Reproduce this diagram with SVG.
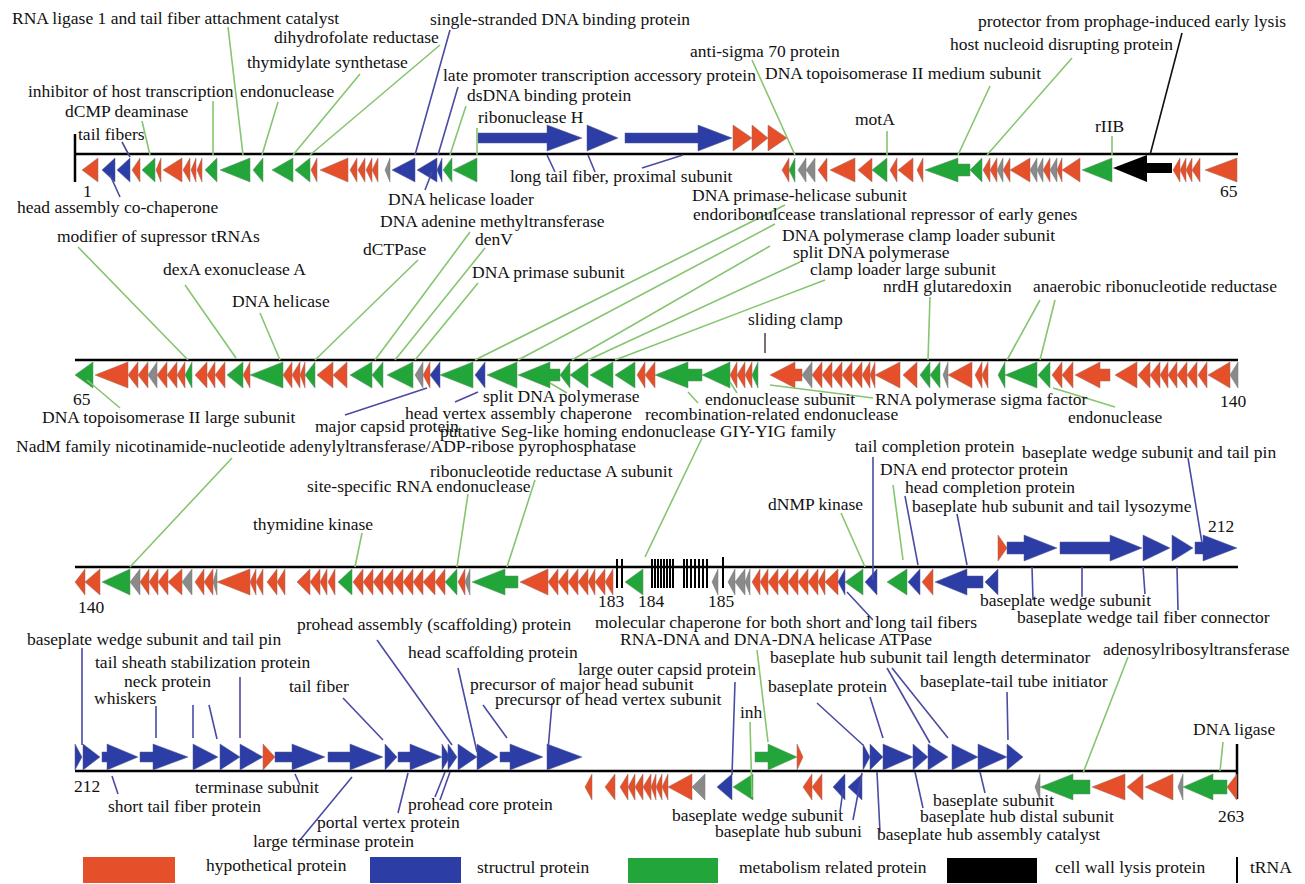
<svg xmlns="http://www.w3.org/2000/svg" width="1305" height="884" viewBox="0 0 1305 884">
<style>
text{font-family:"Liberation Serif","Times New Roman",serif;font-size:17.5px;fill:#111}
.r{fill:#E5502A;stroke:#9a6a60;stroke-width:0.5}
.b{fill:#2D3DA6;stroke:#55588a;stroke-width:0.5}
.g{fill:#23A639;stroke:#5f8a62;stroke-width:0.5}
.y{fill:#8A8A8A;stroke:#777;stroke-width:0.5}
.k{fill:#000}
.axis{stroke:#000;stroke-width:2.5;fill:none}
.lg{stroke:#86C56F;stroke-width:1.6;fill:none}
.lb{stroke:#4B4BA3;stroke-width:1.6;fill:none}
.lk{stroke:#111;stroke-width:1.6;fill:none}
.ld{stroke:#5a4a4a;stroke-width:1.6;fill:none}
.trna{stroke:#000;stroke-width:2;fill:none}
</style>
<rect width="1305" height="884" fill="#fff"/>

<!-- axes -->
<g id="axes">
<line class="axis" x1="75" y1="154" x2="1238" y2="154"/>
<line class="axis" x1="75" y1="134" x2="75" y2="182"/>
<line class="axis" x1="75" y1="360" x2="1238" y2="360"/>
<line class="axis" x1="75" y1="567" x2="1238" y2="567"/>
<line class="axis" x1="75" y1="771" x2="1238" y2="771"/>
<line class="axis" x1="1237" y1="744" x2="1237" y2="799"/>
</g>

<!-- track 1 genes -->
<g id="track1-genes">
<polygon class="r" points="82,170 98,158 98,182"/>
<polygon class="b" points="102,170 115,158 115,182"/>
<polygon class="b" points="117,170 130,158 130,182"/>
<polygon class="r" points="132,170 140,158 140,182"/>
<polygon class="g" points="142,170 155,158 155,182"/>
<polygon class="r" points="156,170 161,158 161,182"/>
<polygon class="r" points="163,170 182,158 182,182"/>
<polygon class="r" points="183,170 190,158 190,182"/>
<polygon class="r" points="191,170 196,158 196,182"/>
<polygon class="r" points="197,170 202,158 202,182"/>
<polygon class="g" points="205,170 217,158 217,182"/>
<polygon class="g" points="220,170 250,158 250,182"/>
<polygon class="g" points="253,170 263,158 263,182"/>
<polygon class="g" points="272,170 293,158 293,182"/>
<polygon class="g" points="295,170 310,158 310,182"/>
<polygon class="r" points="311,170 317,158 317,182"/>
<polygon class="r" points="320,170 348,158 348,182"/>
<polygon class="r" points="350,170 357,158 357,182"/>
<polygon class="r" points="358,170 365,158 365,182"/>
<polygon class="r" points="366,170 372,158 372,182"/>
<polygon class="r" points="372,170 378,158 378,182"/>
<polygon class="y" points="385,170 390,158 390,182"/>
<polygon class="b" points="392,170 415,158 415,182"/>
<polygon class="b" points="417,170 437,158 437,182"/>
<polygon class="b" points="437,170 442,158 442,182"/>
<polygon class="g" points="443,170 452,158 452,182"/>
<polygon class="g" points="453,170 477,158 477,182"/>
<polygon class="b" points="478,133 547,133 547,125 582,138 547,151 547,143 478,143"/>
<polygon class="b" points="587,125 618,138 587,151"/>
<polygon class="b" points="625,133 698,133 698,125 732,138 698,151 698,143 625,143"/>
<polygon class="r" points="733,125 752,138 733,151"/>
<polygon class="r" points="752,125 768,138 752,151"/>
<polygon class="r" points="768,125 787,138 768,151"/>
<polygon class="r" points="782,170 789,158 789,182"/>
<polygon class="g" points="789,170 795,158 795,182"/>
<polygon class="y" points="798,170 806,158 806,182"/>
<polygon class="y" points="806,170 815,158 815,182"/>
<polygon class="r" points="818,170 827,158 827,182"/>
<polygon class="r" points="830,170 855,158 855,182"/>
<polygon class="r" points="858,170 872,158 872,182"/>
<polygon class="g" points="872,170 887,158 887,182"/>
<polygon class="r" points="890,170 897,158 897,182"/>
<polygon class="r" points="898,170 913,158 913,182"/>
<polygon class="r" points="917,170 923,158 923,182"/>
<polygon class="g" points="925,170 958,158 958,164 970,164 970,176 958,176 958,182"/>
<polygon class="g" points="970,170 982,158 982,182"/>
<polygon class="r" points="983,170 990,158 990,182"/>
<polygon class="r" points="990,170 997,158 997,182"/>
<polygon class="y" points="997,170 1003,158 1003,182"/>
<polygon class="r" points="1003,170 1010,158 1010,182"/>
<polygon class="r" points="1010,170 1030,158 1030,182"/>
<polygon class="y" points="1030,170 1037,158 1037,182"/>
<polygon class="y" points="1037,170 1043,158 1043,182"/>
<polygon class="r" points="1043,170 1050,158 1050,182"/>
<polygon class="y" points="1050,170 1057,158 1057,182"/>
<polygon class="r" points="1057,170 1062,158 1062,182"/>
<polygon class="r" points="1062,170 1080,158 1080,182"/>
<polygon class="g" points="1082,170 1112,158 1112,182"/>
<polygon class="k" points="1113,168 1147,155 1147,163 1172,163 1172,173 1147,173 1147,182"/>
<polygon class="r" points="1173,170 1180,158 1180,182"/>
<polygon class="r" points="1180,170 1186,158 1186,182"/>
<polygon class="r" points="1186,170 1192,158 1192,182"/>
<polygon class="r" points="1192,170 1200,158 1200,182"/>
<polygon class="r" points="1205,170 1237,158 1237,182"/>
</g>

<!-- track 2 genes -->
<g id="track2-genes">
<polygon class="g" points="75,375 93,362 93,388"/>
<polygon class="r" points="95,375 128,362 128,388"/>
<polygon class="r" points="128,375 138,362 138,388"/>
<polygon class="r" points="138,375 148,362 148,388"/>
<polygon class="y" points="148,375 157,362 157,388"/>
<polygon class="r" points="157,375 167,362 167,388"/>
<polygon class="r" points="167,375 177,362 177,388"/>
<polygon class="r" points="177,375 185,362 185,388"/>
<polygon class="g" points="185,375 192,362 192,388"/>
<polygon class="r" points="195,375 207,362 207,388"/>
<polygon class="r" points="207,375 215,362 215,388"/>
<polygon class="r" points="215,375 225,362 225,388"/>
<polygon class="g" points="227,375 243,362 243,388"/>
<polygon class="r" points="243,375 250,362 250,388"/>
<polygon class="g" points="250,375 283,362 283,388"/>
<polygon class="r" points="283,375 292,362 292,388"/>
<polygon class="r" points="292,375 300,362 300,388"/>
<polygon class="r" points="300,375 305,362 305,388"/>
<polygon class="g" points="305,375 315,362 315,388"/>
<polygon class="r" points="317,375 333,362 333,388"/>
<polygon class="r" points="333,375 347,362 347,388"/>
<polygon class="g" points="350,375 372,362 372,388"/>
<polygon class="g" points="372,375 383,362 383,388"/>
<polygon class="g" points="387,375 413,362 413,388"/>
<polygon class="y" points="415,375 423,362 423,388"/>
<polygon class="r" points="423,375 430,362 430,388"/>
<polygon class="b" points="430,375 440,362 440,388"/>
<polygon class="g" points="440,375 473,362 473,388"/>
<polygon class="b" points="475,375 485,362 485,388"/>
<polygon class="g" points="487,375 517,362 517,388"/>
<polygon class="g" points="518,375 550,362 550,369 560,369 560,381 550,381 550,388"/>
<polygon class="g" points="560,375 570,362 570,388"/>
<polygon class="g" points="570,375 588,362 588,388"/>
<polygon class="g" points="590,375 613,362 613,388"/>
<polygon class="g" points="615,375 635,362 635,388"/>
<polygon class="r" points="637,375 645,362 645,388"/>
<polygon class="r" points="645,375 655,362 655,388"/>
<polygon class="g" points="655,375 688,362 688,369 702,369 702,381 688,381 688,388"/>
<polygon class="g" points="702,375 730,362 730,388"/>
<polygon class="r" points="730,375 737,362 737,388"/>
<polygon class="r" points="737,375 745,362 745,388"/>
<polygon class="r" points="745,375 752,362 752,388"/>
<polygon class="g" points="752,375 758,362 758,388"/>
<polygon class="r" points="770,375 795,362 795,369 802,369 802,381 795,381 795,388"/>
<polygon class="y" points="802,375 812,362 812,388"/>
<polygon class="r" points="812,375 822,362 822,388"/>
<polygon class="r" points="822,375 832,362 832,388"/>
<polygon class="r" points="832,375 842,362 842,388"/>
<polygon class="r" points="842,375 852,362 852,388"/>
<polygon class="r" points="852,375 862,362 862,388"/>
<polygon class="r" points="862,375 870,362 870,388"/>
<polygon class="r" points="870,375 875,362 875,388"/>
<polygon class="r" points="875,375 900,362 900,388"/>
<polygon class="r" points="903,375 917,362 917,388"/>
<polygon class="g" points="920,375 930,362 930,388"/>
<polygon class="g" points="930,375 940,362 940,388"/>
<polygon class="y" points="943,375 948,362 948,388"/>
<polygon class="r" points="948,375 972,362 972,388"/>
<polygon class="r" points="975,375 982,362 982,388"/>
<polygon class="r" points="982,375 988,362 988,388"/>
<polygon class="g" points="998,375 1005,362 1005,388"/>
<polygon class="g" points="1005,375 1037,362 1037,388"/>
<polygon class="g" points="1038,375 1050,362 1050,388"/>
<polygon class="r" points="1052,375 1062,362 1062,388"/>
<polygon class="r" points="1062,375 1073,362 1073,388"/>
<polygon class="r" points="1075,375 1100,362 1100,369 1110,369 1110,381 1100,381 1100,388"/>
<polygon class="r" points="1115,375 1137,362 1137,388"/>
<polygon class="r" points="1138,375 1150,362 1150,388"/>
<polygon class="r" points="1150,375 1160,362 1160,388"/>
<polygon class="r" points="1160,375 1168,362 1168,388"/>
<polygon class="r" points="1168,375 1177,362 1177,388"/>
<polygon class="r" points="1177,375 1187,362 1187,388"/>
<polygon class="r" points="1187,375 1197,362 1197,388"/>
<polygon class="r" points="1198,375 1207,362 1207,388"/>
<polygon class="r" points="1208,375 1230,362 1230,388"/>
<polygon class="y" points="1230,375 1238,362 1238,388"/>
</g>

<!-- track 3 genes -->
<g id="track3-genes">
<polygon class="r" points="75,582 85,569 85,595"/>
<polygon class="r" points="85,582 100,569 100,595"/>
<polygon class="g" points="102,582 130,569 130,595"/>
<polygon class="y" points="130,582 140,569 140,595"/>
<polygon class="r" points="140,582 149,569 149,595"/>
<polygon class="r" points="149,582 158,569 158,595"/>
<polygon class="r" points="158,582 168,569 168,595"/>
<polygon class="r" points="168,582 182,569 182,595"/>
<polygon class="y" points="182,582 192,569 192,595"/>
<polygon class="r" points="195,582 204,569 204,595"/>
<polygon class="r" points="204,582 213,569 213,595"/>
<polygon class="y" points="213,582 217,569 217,595"/>
<polygon class="r" points="217,582 250,569 250,595"/>
<polygon class="r" points="250,582 256,569 256,595"/>
<polygon class="r" points="256,582 263,569 263,595"/>
<polygon class="r" points="267,582 277,569 277,595"/>
<polygon class="r" points="277,582 285,569 285,595"/>
<polygon class="r" points="297,582 310,569 310,595"/>
<polygon class="r" points="310,582 320,569 320,595"/>
<polygon class="r" points="320,582 327,569 327,595"/>
<polygon class="r" points="328,582 335,569 335,595"/>
<polygon class="g" points="338,582 352,569 352,595"/>
<polygon class="r" points="353,582 363,569 363,595"/>
<polygon class="r" points="363,582 373,569 373,595"/>
<polygon class="r" points="373,582 383,569 383,595"/>
<polygon class="r" points="383,582 393,569 393,595"/>
<polygon class="r" points="393,582 403,569 403,595"/>
<polygon class="r" points="403,582 413,569 413,595"/>
<polygon class="r" points="413,582 423,569 423,595"/>
<polygon class="r" points="423,582 435,569 435,595"/>
<polygon class="r" points="435,582 445,569 445,595"/>
<polygon class="g" points="445,582 457,569 457,595"/>
<polygon class="r" points="458,582 465,569 465,595"/>
<polygon class="y" points="465,582 470,569 470,595"/>
<polygon class="g" points="472,582 505,569 505,576 518,576 518,588 505,588 505,595"/>
<polygon class="r" points="520,582 548,569 548,595"/>
<polygon class="r" points="548,582 558,569 558,595"/>
<polygon class="r" points="558,582 568,569 568,595"/>
<polygon class="r" points="568,582 578,569 578,595"/>
<polygon class="r" points="578,582 588,569 588,595"/>
<polygon class="r" points="588,582 595,569 595,595"/>
<polygon class="r" points="595,582 605,569 605,595"/>
<polygon class="r" points="605,582 613,569 613,595"/>
<polygon class="g" points="625,582 643,569 643,595"/>
<polygon class="y" points="712,582 718,569 718,595"/>
<polygon class="y" points="728,582 735,569 735,595"/>
<polygon class="y" points="735,582 745,569 745,595"/>
<polygon class="y" points="745,582 750,569 750,595"/>
<polygon class="r" points="752,582 760,569 760,595"/>
<polygon class="r" points="760,582 768,569 768,595"/>
<polygon class="r" points="768,582 778,569 778,595"/>
<polygon class="r" points="778,582 788,569 788,595"/>
<polygon class="r" points="788,582 798,569 798,595"/>
<polygon class="r" points="798,582 808,569 808,595"/>
<polygon class="r" points="808,582 818,569 818,595"/>
<polygon class="r" points="818,582 825,569 825,595"/>
<polygon class="r" points="825,582 838,569 838,595"/>
<polygon class="b" points="838,582 845,569 845,595"/>
<polygon class="g" points="845,582 863,569 863,595"/>
<polygon class="b" points="865,582 877,569 877,595"/>
<polygon class="g" points="887,582 907,569 907,595"/>
<polygon class="b" points="908,582 920,569 920,595"/>
<polygon class="r" points="922,582 933,569 933,595"/>
<polygon class="b" points="935,582 967,569 967,576 983,576 983,588 967,588 967,595"/>
<polygon class="b" points="985,582 998,569 998,595"/>
<polygon class="r" points="998,535 1007,548 998,561"/>
<polygon class="b" points="1007,542 1024,542 1024,535 1057,548 1024,561 1024,554 1007,554"/>
<polygon class="b" points="1060,542 1110,542 1110,535 1142,548 1110,561 1110,554 1060,554"/>
<polygon class="b" points="1143,535 1170,548 1143,561"/>
<polygon class="b" points="1172,535 1193,548 1172,561"/>
<polygon class="b" points="1195,542 1203,542 1203,535 1237,548 1203,561 1203,554 1195,554"/>
</g>

<!-- tRNA marks -->
<g id="trna">
<path class="trna" d="M617 559V588M622 559V588M652 559V588M655 559V588M658 559V588M661 559V588M664 559V588M667 559V588M670 559V588M673 559V588M684 559V588M687 559V588M691 559V588M695 559V588M699 559V588M703 559V588M707 559V588M723 557V588"/>
</g>

<!-- track 4 genes -->
<g id="track4-genes">
<polygon class="b" points="75,744 82,757 75,770"/>
<polygon class="b" points="83,744 100,757 83,770"/>
<polygon class="b" points="102,752 107,752 107,744 138,757 107,770 107,762 102,762"/>
<polygon class="b" points="140,752 153,752 153,744 188,757 153,770 153,762 140,762"/>
<polygon class="b" points="193,744 218,757 193,770"/>
<polygon class="b" points="220,744 240,757 220,770"/>
<polygon class="b" points="240,744 263,757 240,770"/>
<polygon class="r" points="263,744 275,757 263,770"/>
<polygon class="b" points="275,752 292,752 292,744 325,757 292,770 292,762 275,762"/>
<polygon class="b" points="328,752 350,752 350,744 383,757 350,770 350,762 328,762"/>
<polygon class="b" points="385,744 397,757 385,770"/>
<polygon class="b" points="398,752 410,752 410,744 442,757 410,770 410,762 398,762"/>
<polygon class="b" points="442,744 450,757 442,770"/>
<polygon class="b" points="448,744 457,757 448,770"/>
<polygon class="b" points="458,744 477,757 458,770"/>
<polygon class="b" points="477,744 498,757 477,770"/>
<polygon class="b" points="500,752 510,752 510,744 543,757 510,770 510,762 500,762"/>
<polygon class="b" points="547,744 582,757 547,770"/>
<polygon class="r" points="585,787 592,774 592,800"/>
<polygon class="r" points="605,787 615,774 615,800"/>
<polygon class="r" points="620,787 628,774 628,800"/>
<polygon class="r" points="628,787 635,774 635,800"/>
<polygon class="r" points="635,787 643,774 643,800"/>
<polygon class="r" points="643,787 651,774 651,800"/>
<polygon class="r" points="651,787 656,774 656,800"/>
<polygon class="r" points="656,787 662,774 662,800"/>
<polygon class="r" points="662,787 668,774 668,800"/>
<polygon class="r" points="668,787 692,774 692,800"/>
<polygon class="y" points="692,787 705,774 705,800"/>
<polygon class="b" points="717,787 732,774 732,800"/>
<polygon class="g" points="733,787 753,774 753,800"/>
<polygon class="g" points="755,752 768,752 768,744 797,757 768,770 768,762 755,762"/>
<polygon class="r" points="797,744 803,757 797,770"/>
<polygon class="r" points="803,787 812,774 812,800"/>
<polygon class="r" points="812,787 822,774 822,800"/>
<polygon class="b" points="833,787 845,774 845,800"/>
<polygon class="b" points="848,787 862,774 862,800"/>
<polygon class="b" points="863,744 870,757 863,770"/>
<polygon class="b" points="870,744 883,757 870,770"/>
<polygon class="b" points="883,744 913,757 883,770"/>
<polygon class="b" points="913,744 928,757 913,770"/>
<polygon class="b" points="928,744 948,757 928,770"/>
<polygon class="b" points="952,744 978,757 952,770"/>
<polygon class="b" points="978,744 1007,757 978,770"/>
<polygon class="b" points="1007,744 1023,757 1007,770"/>
<polygon class="y" points="1035,787 1040,774 1040,800"/>
<polygon class="g" points="1040,787 1073,774 1073,780 1090,780 1090,794 1073,794 1073,800"/>
<polygon class="r" points="1092,787 1125,774 1125,800"/>
<polygon class="r" points="1127,787 1143,774 1143,800"/>
<polygon class="r" points="1145,787 1173,774 1173,800"/>
<polygon class="y" points="1178,787 1183,774 1183,800"/>
<polygon class="g" points="1183,787 1213,774 1213,780 1227,780 1227,794 1213,794 1213,800"/>
<polygon class="r" points="1227,787 1237,774 1237,800"/>
</g>

<!-- connectors -->
<g id="connectors">
<path class="lg" d="M228 27L243 155M440 45L310 155M360 74L293 155M213 101V155M278 102L262 155M142 121L150 155M466 106L450 155M477 128V155M752 60L795 155M990 86L958 155M1072 58L987 155M887 131V155M1112 136V155"/>
<path class="lb" d="M450 30L415 155M458 87L438 155M122 142L130 157M120 197L110 175M425 190L432 172M547 155L555 172M588 155L595 172M683 155L642 168"/>
<path class="lk" d="M1182 33L1150 155"/>
<path class="lg" d="M785 205L475 360M775 224L518 360M770 246L572 360M800 262L588 360M825 280L615 360M930 297L928 360M1040 300L1007 360M1055 300L1040 360M78 247L188 360M185 285L236 358M260 313L280 360M418 260L315 360M470 232L375 360M485 248L395 360M478 283L415 360M120 408L87 380M550 383L567 393M730 382L737 393M688 392L698 403M770 385L873 398M1053 388L1115 407"/>
<path class="ld" d="M765 333V353"/>
<path class="lb" d="M345 415L427 388M455 402L478 392"/>
<path class="lg" d="M232 458L130 567M362 533L355 567M468 494L457 567M535 480L507 567M702 438L645 557M841 513L865 567M893 485L903 560"/>
<path class="lb" d="M873 457V580M905 496L918 565M957 514L967 565M1188 458L1202 543M847 592L873 620M1032 567L1033 600M1082 567V597M1143 567L1145 594M1177 567L1178 610"/>
<path class="lb" d="M82 648V745M240 677V738M193 705V738M209 705L217 739M156 706V738M343 698L383 740M377 640L452 745M458 668L477 752M735 682L732 775M483 705L507 738M552 703L548 750M887 668L930 743M892 668L948 738M817 703L863 745M870 697L883 738M1007 692L1008 740"/>
<path class="lb" d="M112 776L118 794M295 774L300 785M300 840L352 777M398 813L408 773M435 797L445 772M440 800L450 772M840 812L843 790M853 820L862 773M980 772L985 793M915 772L923 808M877 772L880 832"/>
<path class="lg" d="M750 722L752 797M757 650L768 742M1128 657L1083 773M1223 742L1220 771"/>
</g>

<!-- labels -->
<g id="labels-track1">
<text x="12" y="24">RNA ligase 1 and tail fiber attachment catalyst</text>
<text x="430" y="25">single-stranded DNA binding protein</text>
<text x="274" y="43">dihydrofolate reductase</text>
<text x="247" y="68">thymidylate synthetase</text>
<text x="443" y="81">late promoter transcription accessory protein</text>
<text x="467" y="101">dsDNA binding protein</text>
<text x="478" y="123">ribonuclease H</text>
<text x="28" y="97">inhibitor of host transcription</text>
<text x="240" y="97">endonuclease</text>
<text x="65" y="117">dCMP deaminase</text>
<text x="78" y="140">tail fibers</text>
<text x="690" y="57">anti-sigma 70 protein</text>
<text x="765" y="79">DNA topoisomerase II medium subunit</text>
<text x="978" y="27">protector from prophage-induced early lysis</text>
<text x="950" y="50">host nucleoid disrupting protein</text>
<text x="855" y="125">motA</text>
<text x="1095" y="132">rIIB</text>
<text x="83" y="197">1</text>
<text x="17" y="213">head assembly co-chaperone</text>
<text x="388" y="205">DNA helicase loader</text>
<text x="510" y="182">long tail fiber, proximal subunit</text>
<text x="692" y="201">DNA primase-helicase subunit</text>
<text x="1220" y="197">65</text>
</g>
<g id="labels-track2">
<text x="380" y="227">DNA adenine methyltransferase</text>
<text x="693" y="220">endoribonulcease translational repressor of early genes</text>
<text x="57" y="242">modifier of supressor tRNAs</text>
<text x="782" y="241">DNA polymerase clamp loader subunit</text>
<text x="475" y="245">denV</text>
<text x="363" y="255">dCTPase</text>
<text x="793" y="258">split DNA polymerase</text>
<text x="810" y="275">clamp loader large subunit</text>
<text x="472" y="278">DNA primase subunit</text>
<text x="163" y="275">dexA exonuclease A</text>
<text x="883" y="292">nrdH glutaredoxin</text>
<text x="1033" y="292">anaerobic ribonucleotide reductase</text>
<text x="232" y="307">DNA helicase</text>
<text x="748" y="325">sliding clamp</text>
<text x="73" y="405">65</text>
<text x="483" y="402">split DNA polymerase</text>
<text x="705" y="405">endonuclease subunit</text>
<text x="875" y="405">RNA polymerase sigma factor</text>
<text x="1220" y="407">140</text>
<text x="42" y="423">DNA topoisomerase II large subunit</text>
<text x="315" y="432">major capsid protein</text>
<text x="405" y="419">head vertex assembly chaperone</text>
<text x="645" y="420">recombination-related endonuclease</text>
<text x="1068" y="423">endonuclease</text>
<text x="440" y="437">putative Seg-like homing endonuclease GIY-YIG family</text>
</g>
<g id="labels-track3">
<text x="16" y="452">NadM family nicotinamide-nucleotide adenylyltransferase/ADP-ribose pyrophosphatase</text>
<text x="855" y="452">tail completion protein</text>
<text x="880" y="475">DNA end protector protein</text>
<text x="430" y="477">ribonucleotide reductase A subunit</text>
<text x="905" y="493">head completion protein</text>
<text x="307" y="492">site-specific RNA endonuclease</text>
<text x="912" y="512">baseplate hub subunit and tail lysozyme</text>
<text x="1022" y="458">baseplate wedge subunit and tail pin</text>
<text x="768" y="510">dNMP kinase</text>
<text x="253" y="530">thymidine kinase</text>
<text x="1208" y="532">212</text>
<text x="78" y="613">140</text>
<text x="598" y="607">183</text>
<text x="638" y="607">184</text>
<text x="708" y="607">185</text>
<text x="980" y="606">baseplate wedge subunit</text>
<text x="1017" y="623">baseplate wedge tail fiber connector</text>
<text x="595" y="628">molecular chaperone for both short and long tail fibers</text>
<text x="297" y="630">prohead assembly (scaffolding) protein</text>
<text x="620" y="645">RNA-DNA and DNA-DNA helicase ATPase</text>
</g>
<g id="labels-track4">
<text x="27" y="645">baseplate wedge subunit and tail pin</text>
<text x="408" y="658">head scaffolding protein</text>
<text x="770" y="663">baseplate hub subunit tail length determinator</text>
<text x="1103" y="655">adenosylribosyltransferase</text>
<text x="95" y="668">tail sheath stabilization protein</text>
<text x="578" y="675">large outer capsid protein</text>
<text x="124" y="687">neck protein</text>
<text x="470" y="690">precursor of major head subunit</text>
<text x="289" y="692">tail fiber</text>
<text x="768" y="692">baseplate protein</text>
<text x="920" y="687">baseplate-tail tube initiator</text>
<text x="94" y="704">whiskers</text>
<text x="495" y="705">precursor of head vertex subunit</text>
<text x="740" y="718">inh</text>
<text x="1193" y="735">DNA ligase</text>
<text x="74" y="792">212</text>
<text x="195" y="793">terminase subunit</text>
<text x="108" y="812">short tail fiber protein</text>
<text x="408" y="810">prohead core protein</text>
<text x="933" y="806">baseplate subunit</text>
<text x="317" y="828">portal vertex protein</text>
<text x="672" y="821">baseplate wedge subunit</text>
<text x="920" y="822">baseplate hub distal subunit</text>
<text x="1218" y="822">263</text>
<text x="715" y="837">baseplate hub subuni</text>
<text x="877" y="840">baseplate hub assembly catalyst</text>
<text x="253" y="847">large terminase protein</text>
</g>

<!-- legend -->
<g id="legend">
<rect x="83" y="857" width="92" height="26" fill="#E5502A"/>
<text x="206" y="871">hypothetical protein</text>
<rect x="370" y="857" width="91" height="26" fill="#2D3DA6"/>
<text x="477" y="873">structrul protein</text>
<rect x="628" y="858" width="90" height="25" fill="#23A639"/>
<text x="739" y="873">metabolism related protein</text>
<rect x="947" y="858" width="90" height="25" fill="#000"/>
<text x="1055" y="873">cell wall lysis protein</text>
<line class="trna" x1="1237" y1="857" x2="1237" y2="883"/>
<text x="1250" y="873">tRNA</text>
</g>
</svg>
